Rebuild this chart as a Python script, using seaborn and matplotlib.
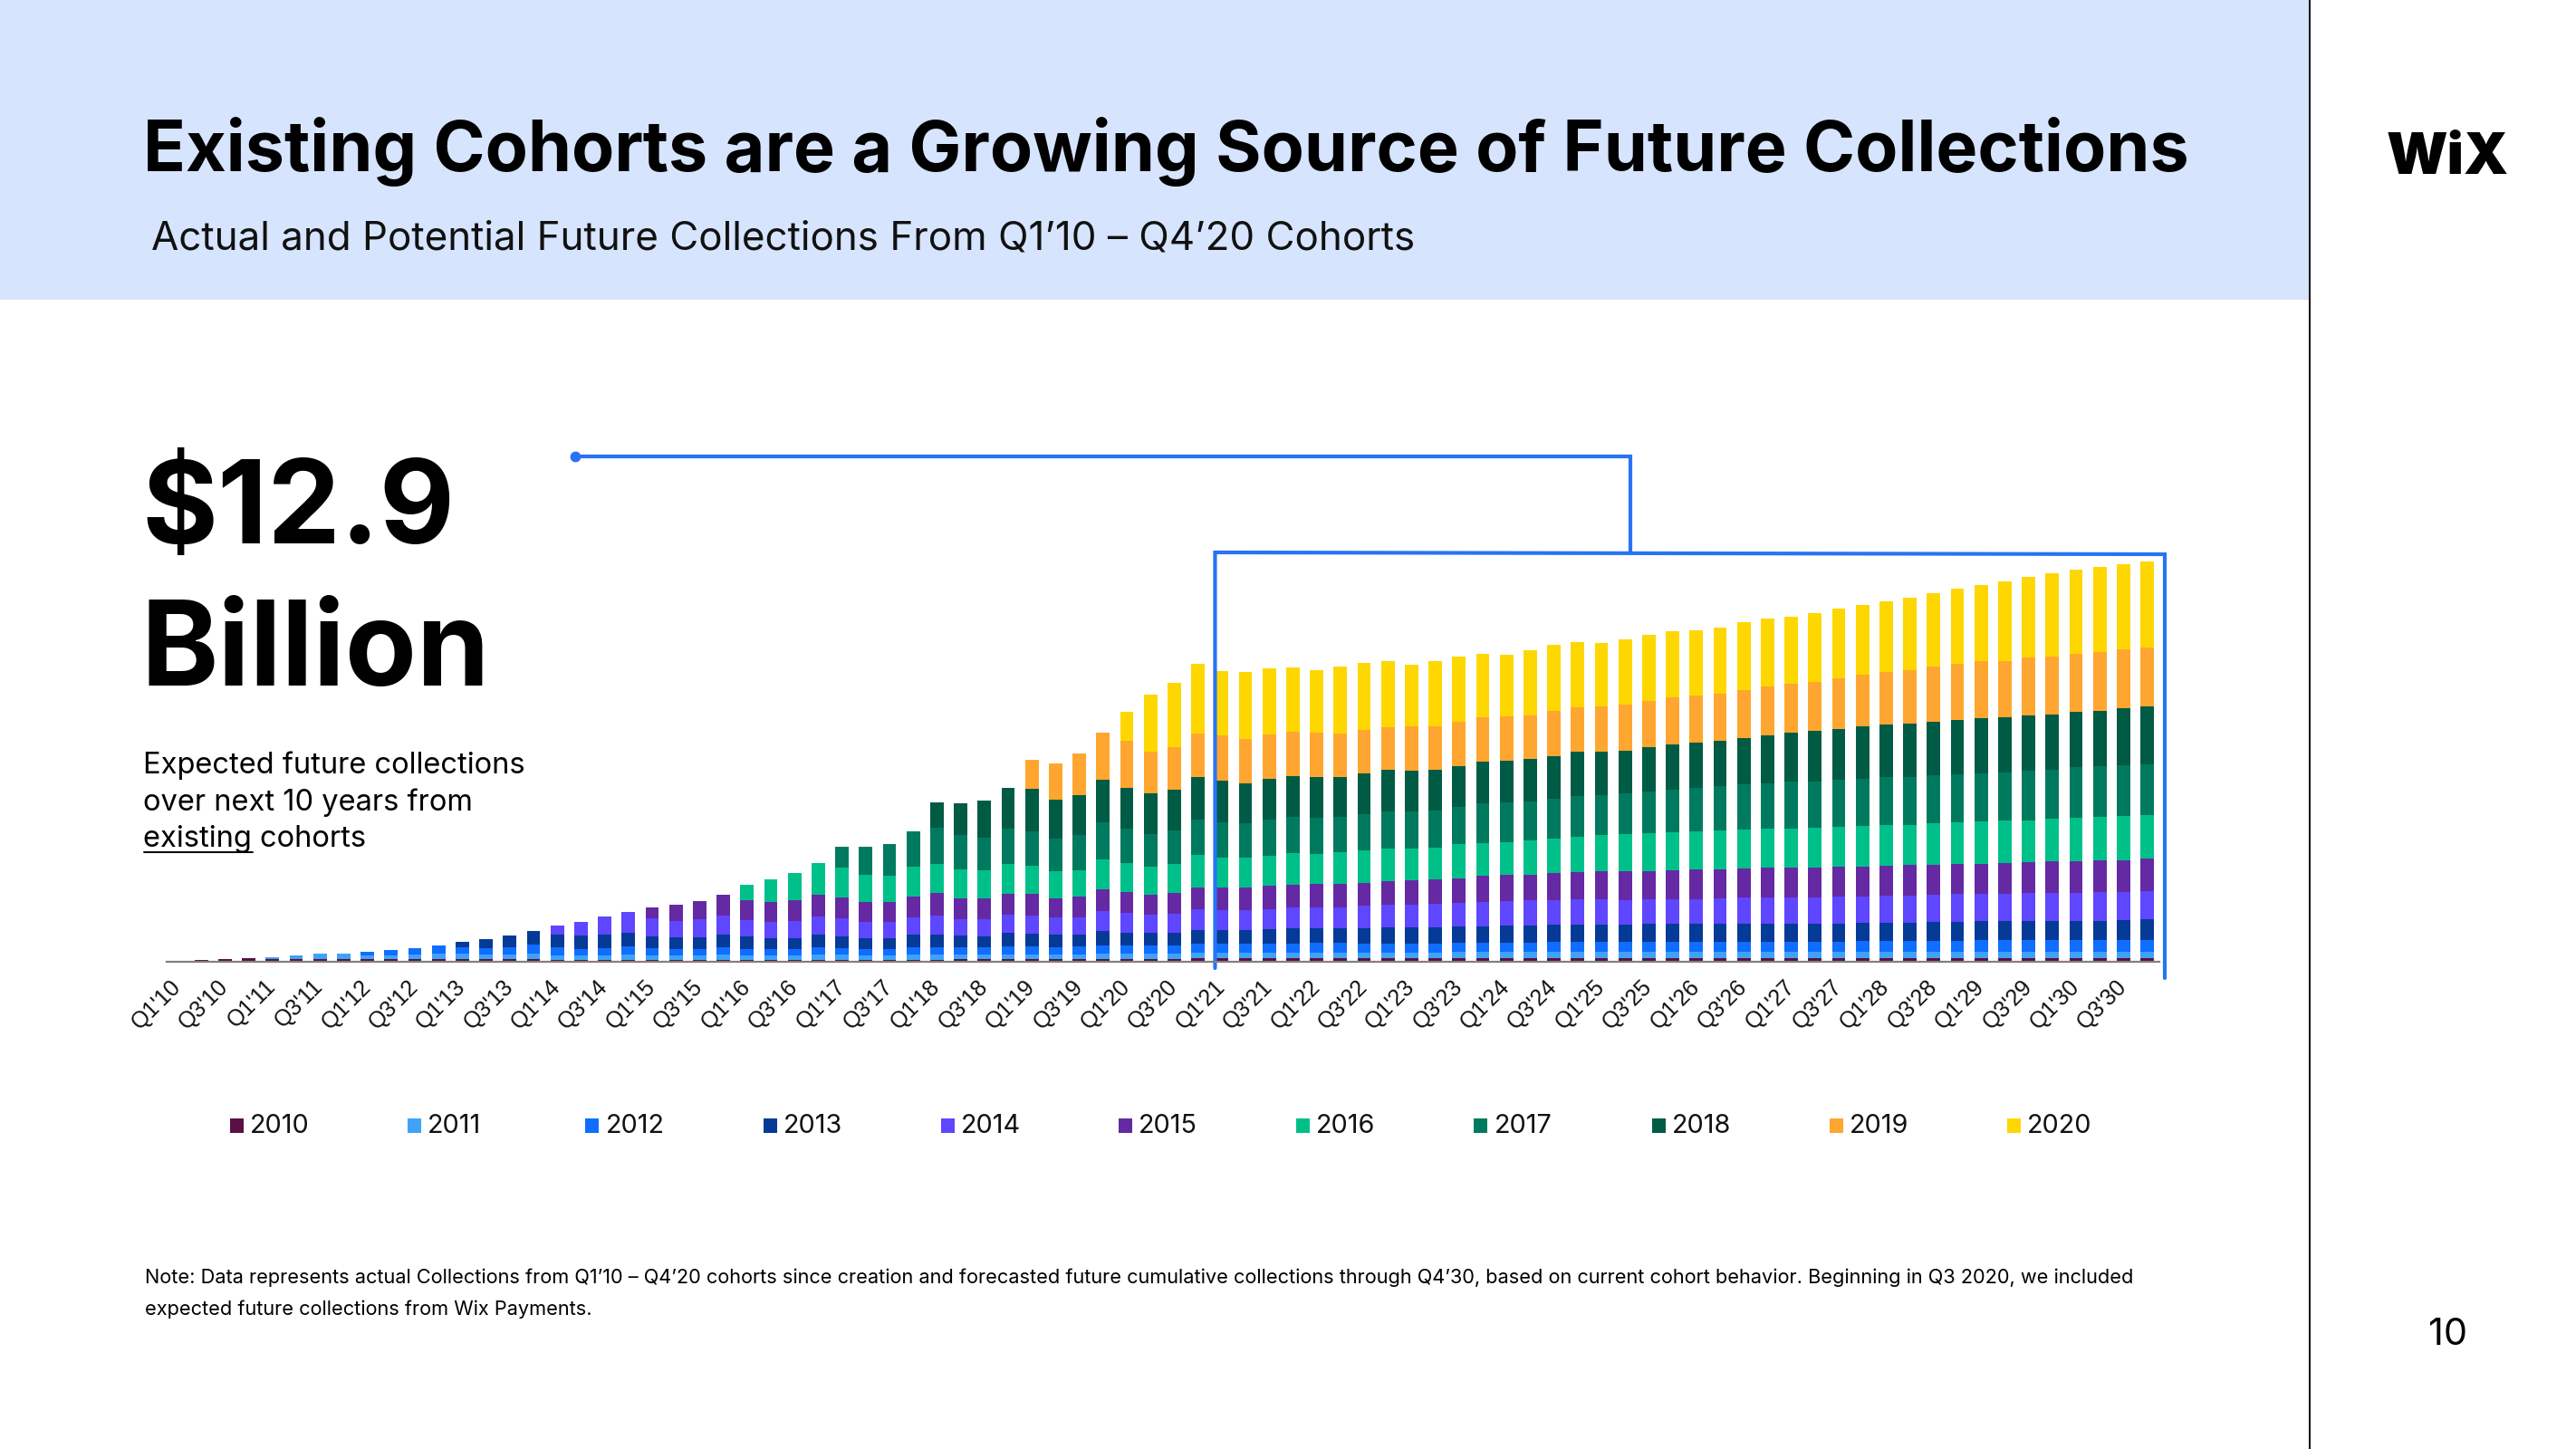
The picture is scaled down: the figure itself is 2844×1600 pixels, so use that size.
import numpy as np
import pandas as pd
import matplotlib
matplotlib.use("Agg")
import matplotlib.pyplot as plt
import seaborn as sns
from matplotlib.patches import Rectangle
from matplotlib.lines import Line2D

# ---------------- data ----------------
quarters = [f"Q{q}'{y:02d}" for y in range(10, 31) for q in (1, 2, 3, 4)]
cohorts = ["2010", "2011", "2012", "2013", "2014", "2015",
           "2016", "2017", "2018", "2019", "2020"]
cohort_colors = ["#5B0F44", "#3FA2F7", "#0F6EFF", "#053A96", "#5F46FF", "#6529A3",
                 "#00C08A", "#007A5F", "#005B45", "#FFA630", "#FFD700"]
# index of the first quarter in which each cohort has collections
cohort_start = [0, 4, 8, 12, 16, 20, 24, 28, 32, 36, 40]

c2010 = [1.3, 2.3, 2.7, 4.0,
         2.7, 2.7, 2.7, 2.7, 2.7, 2.7, 2.7, 2.7, 2.7, 2.7, 2.7, 2.7,
         2.5, 2.5, 2.5, 2.5, 2.5, 2.5, 2.5, 2.5, 2.5, 2.5, 2.5, 2.5, 2.5, 2.5, 2.5, 2.5, 2.5,
         3.0, 3.0, 3.0, 3.0, 3.0, 3.0, 3.3, 3.3, 3.3, 3.3,
         3.7, 3.7, 3.7, 3.7, 3.7, 3.7, 3.7, 3.7, 3.7, 3.7, 3.7, 3.7, 3.7, 3.7, 3.7, 3.7,
         3.7, 3.7, 3.7, 3.7, 3.7, 3.7, 3.7, 3.7,
         4.0, 4.0, 4.0, 4.0, 4.0, 4.0, 4.0, 4.0, 4.0, 4.0, 4.0, 4.0, 4.0, 4.0, 4.0, 4.0, 4.0]
c2011 = [2.7, 4.0, 6.0, 6.7, 4.0, 4.7, 5.0, 6.0, 6.0, 5.7, 5.7, 6.0,
         5.0, 5.0, 5.0, 5.3, 5.0, 4.7, 5.0, 5.3, 5.0, 4.7, 4.7, 5.3, 5.3, 4.7, 4.7, 5.3, 5.3,
         5.3, 5.3, 5.3, 5.3, 5.3, 5.3, 5.7, 5.7, 5.7, 5.7, 6.0, 6.3, 6.3, 6.7, 6.7, 6.7, 6.7,
         6.7, 6.7, 6.7, 6.7, 7.0, 7.0, 7.0, 7.0, 7.0, 7.3, 7.3, 7.3, 7.3, 7.3, 7.3, 7.3, 7.3,
         7.3, 7.3, 7.3, 7.3, 7.3, 7.3, 7.3, 7.3, 7.3, 7.3, 7.3, 7.3, 7.3, 7.3, 7.3, 7.3, 7.3]
c2012 = [4.3, 5.3, 7.3, 9.0, 7.3, 6.7, 7.7, 10.0,
         8.3, 7.0, 8.0, 9.3, 7.7, 6.7, 7.0, 8.3, 7.0, 7.3, 7.3, 8.7, 7.7, 7.3, 7.3, 8.7, 8.7,
         7.3, 7.3, 9.0, 9.0, 8.0, 8.3, 9.3, 9.0, 9.0, 9.3, 10.0, 9.7, 9.7, 10.0, 10.0, 10.3, 10.3,
         10.0, 10.0, 10.0, 10.0, 10.3, 10.3, 10.3, 10.7, 11.0, 11.0, 11.0, 11.0, 11.3, 11.3, 11.3, 11.3, 11.3,
         11.0, 11.0, 11.0, 11.0, 11.3, 11.3, 11.3, 12.0, 12.0, 12.7, 12.7, 12.7, 12.7, 12.7, 12.7, 13.0, 13.0]
c2013 = [5.7, 10.0, 12.7, 15.6,
         14.7, 14.3, 14.3, 15.3, 13.3, 12.7, 12.7, 14.3, 13.3, 12.0, 12.0, 13.3, 13.0, 12.0, 12.0, 13.3, 14.0,
         13.0, 12.7, 14.3, 14.0, 13.3, 13.7, 16.0, 14.3, 13.7, 14.0, 15.7, 15.7, 15.7, 16.0, 16.3, 16.7, 16.7,
         17.0, 18.0, 18.0, 18.0, 18.3, 18.3, 18.7, 18.3, 19.0, 18.7, 18.7, 19.0, 19.3, 19.3, 19.3, 19.3, 19.3,
         20.0, 20.0, 20.0, 20.0, 20.3, 20.7, 20.7, 20.7, 20.7, 20.7, 20.7, 20.7, 21.3, 21.3, 21.3, 21.7, 22.3]
c2014 = [10.0, 15.7, 20.7, 23.0, 19.3, 18.0, 20.3, 21.0, 18.7, 18.0, 18.7, 20.3, 19.7, 17.3, 17.7, 19.3, 20.7,
         18.7, 19.0, 20.0, 19.7, 19.0, 19.0, 22.0, 21.3, 20.3, 21.0, 23.0, 22.0, 22.0, 22.0, 23.3, 22.7, 22.7,
         25.0, 25.0, 24.7, 26.0, 26.0, 27.0, 27.7, 28.3, 27.7, 28.0, 28.0, 27.3, 27.7, 27.7, 27.7, 28.7, 29.0,
         29.0, 29.0, 29.0, 30.0, 29.3, 29.7, 30.0, 30.0, 30.7, 30.0, 30.7, 31.7, 31.0, 31.0, 31.7, 31.3, 31.7]
c2015 = [12.3, 18.0, 20.0, 22.7, 22.0, 21.3, 23.0, 24.3, 23.3, 22.0, 22.3, 23.3, 24.7,
         22.3, 22.3, 23.0, 23.7, 21.0, 22.3, 23.7, 23.3, 22.0, 23.0, 24.0, 24.3, 24.3, 25.3, 25.3, 25.7, 26.3,
         25.0, 25.7, 27.3, 27.0, 27.0, 28.3, 28.3, 28.3, 29.3, 30.0, 31.0, 31.3, 31.0, 32.0, 32.3, 31.3, 32.0,
         32.3, 32.3, 33.0, 32.3, 33.3, 32.7, 33.3, 33.3, 33.3, 33.7, 33.7, 33.3, 34.3, 35.0, 35.0, 35.0, 35.7]
c2016 = [16.7, 25.3, 30.0, 34.7, 33.0, 30.7, 28.7, 32.7, 32.0,
         32.0, 31.7, 33.3, 31.7, 30.0, 29.7, 33.3, 32.3, 31.3, 32.0, 35.3, 33.3, 33.3, 33.7, 34.7, 33.3, 34.3,
         36.0, 36.3, 35.0, 35.0, 37.3, 36.7, 36.7, 38.0, 38.7, 39.7, 40.0, 41.0, 42.0, 42.0, 42.7, 43.3, 43.7,
         43.3, 43.7, 44.0, 44.7, 44.7, 45.7, 44.7, 45.7, 46.0, 46.3, 46.7, 46.7, 47.3, 47.7, 47.7, 48.7, 48.3]
c2017 = [22.7, 30.7, 35.3, 39.3, 40.3,
         38.0, 36.0, 39.3, 37.7, 36.7, 38.7, 40.7, 38.0, 36.0, 36.7, 39.7, 39.0, 38.0, 40.0, 40.0, 40.3, 39.3,
         39.7, 41.0, 41.0, 40.7, 41.7, 43.3, 43.3, 42.7, 44.0, 44.7, 44.7, 45.0, 45.7, 47.0, 48.0, 48.7, 50.0,
         50.3, 51.7, 50.7, 51.7, 52.0, 52.3, 53.0, 53.3, 53.3, 53.7, 53.7, 55.0, 54.3, 55.7, 56.0, 56.3, 56.0]
c2018 = [28.3,
         35.7, 41.0, 44.7, 47.3, 42.7, 44.0, 46.7, 45.0, 44.3, 44.7, 46.3, 45.7, 44.3, 44.3, 44.7, 44.7, 44.3,
         45.3, 45.3, 45.0, 45.3, 45.0, 46.0, 46.0, 46.7, 47.0, 48.7, 48.0, 47.7, 49.0, 50.0, 50.0, 50.7, 51.0,
         53.3, 54.0, 55.7, 56.3, 57.7, 58.7, 59.0, 58.7, 59.3, 60.3, 60.7, 60.3, 61.3, 61.0, 61.3, 62.3, 63.3]
c2019 = [31.7, 40.0, 46.0, 52.7, 51.7, 46.7, 47.3, 48.7, 50.7, 49.0, 49.7, 49.3, 49.0, 47.3,
         48.0, 47.3, 49.0, 48.0, 49.0, 49.0, 49.7, 48.7, 50.0, 49.7, 50.0, 50.7, 51.0, 51.3, 52.0, 52.0, 52.7,
         54.0, 54.0, 54.7, 55.7, 57.3, 57.7, 59.0, 60.7, 62.0, 63.0, 62.3, 64.0, 64.0, 64.7, 64.7, 65.0, 65.7]
c2020 = [32.3, 63.0, 71.0, 76.7, 70.3, 73.7, 72.7, 71.3, 69.0, 74.7,
         73.7, 73.3, 68.0, 71.3, 71.3, 70.3, 68.0, 72.0, 72.7, 72.0, 70.0, 72.0, 73.0, 73.3, 71.7, 73.0, 75.0,
         74.3, 74.3, 75.3, 77.3, 77.3, 78.0, 80.0, 81.7, 83.7, 84.7, 87.7, 89.3, 91.3, 92.7, 94.0, 94.3, 94.7]
series = [c2010, c2011, c2012, c2013, c2014, c2015, c2016, c2017, c2018, c2019, c2020]

legend_labels = cohorts
title = "Existing Cohorts are a Growing Source of Future Collections"
subtitle = "Actual and Potential Future Collections From Q1\u201910 \u2013 Q4\u201920 Cohorts"
big_number = r"\$12.9"
big_unit = "Billion"
body_lines = ["Expected future collections", "over next 10 years from", "existing cohorts"]
note_lines = ["Note: Data represents actual Collections from Q1\u201910 \u2013 Q4\u201920 cohorts since creation and "
              "forecasted future cumulative collections through Q4\u201930, based on current cohort behavior. "
              "Beginning in Q3 2020, we included",
              "expected future collections from Wix Payments."]
page_number = "10"

rows = []
for name, start, vals in zip(cohorts, cohort_start, series):
    assert start + len(vals) == len(quarters), name
    for j, v in enumerate(vals):
        rows.append((start + j, name, v))
df = pd.DataFrame(rows, columns=["quarter", "cohort", "value"])

# ---------------- figure ----------------
W, H = 2844, 1600
sns.set_theme(style="white")
plt.rcParams["font.family"] = ["Inter", "DejaVu Sans"]

fig = plt.figure(figsize=(W / 100, H / 100), dpi=100)
fig.patch.set_facecolor("white")


def fx(px):
    return px / W


def fy(py):
    return 1 - py / H


# header band and divider
fig.add_artist(Rectangle((0, fy(331)), 2550 / W, 331 / H, transform=fig.transFigure,
                         facecolor="#D6E4FE", edgecolor="none", zorder=0))
fig.add_artist(Line2D([fx(2550), fx(2550)], [0, 1], transform=fig.transFigure,
                      color="#1a1a1a", lw=1.5))

# chart axes
ax = fig.add_axes([fx(184), (H - 1062) / H, 2200 / W, 460 / H])
sns.histplot(data=df, x="quarter", weights="value", hue="cohort",
             hue_order=cohorts[::-1], palette=dict(zip(cohorts, cohort_colors)),
             multiple="stack", discrete=True, shrink=0.56, alpha=1, linewidth=0,
             legend=False, ax=ax)
ax.set_xlim(-0.458, 83.511)
ax.set_ylim(0, 460)
ax.set_xlabel("")
ax.set_ylabel("")
ax.set_yticks([])
ax.patch.set_alpha(0)
for s in ["top", "left", "right"]:
    ax.spines[s].set_visible(False)
ax.spines["bottom"].set_color("#808080")
ax.spines["bottom"].set_linewidth(1.6)
ax.set_xticks(range(0, len(quarters), 2))
ax.set_xticklabels(quarters[::2], rotation=45, ha="right", va="center",
                   rotation_mode="anchor", fontsize=18, family="Liberation Sans",
                   color="#111111")
ax.tick_params(axis="x", length=0, pad=17)

# connector / bracket (data coordinates)
blue = "#2873F5"
lw = 3.0
ax.plot([16.76, 61.22, 61.22], [558, 558, 452], color=blue, lw=lw, clip_on=False,
        solid_joinstyle="miter")
ax.plot([16.76], [558], marker="o", ms=7.5, color=blue, clip_on=False)
ax.plot([43.72, 43.72, 83.74, 83.74], [-7, 452, 450, -18], color=blue, lw=lw,
        clip_on=False, solid_joinstyle="miter")

# ---------------- texts ----------------
renderer = fig.canvas.get_renderer()


def fit(t, target_w):
    bb = t.get_window_extent(renderer=renderer)
    t.set_fontsize(t.get_fontsize() * target_w / bb.width)
    return t.get_fontsize()


t = fig.text(fx(158), fy(189), title, fontsize=56, fontweight="bold", va="baseline",
             ha="left", color="black")
fit(t, 2260)
t = fig.text(fx(167), fy(276), subtitle, fontsize=26, va="baseline", ha="left",
             color="#111111")
fit(t, 1395)
t = fig.text(fx(2635), fy(192), "WiX", fontsize=40, fontweight="black", va="baseline",
             ha="left", color="black")
fit(t, 135)

t = fig.text(fx(156), fy(600), big_number, fontsize=100, fontweight="bold",
             va="baseline", ha="left", color="black")
fit(t, 346)
t = fig.text(fx(156), fy(757), big_unit, fontsize=100, fontweight="bold",
             va="baseline", ha="left", color="black")
fit(t, 385)

t0 = fig.text(fx(158), fy(854), body_lines[0], fontsize=22, va="baseline", ha="left",
              color="black")
bsize = fit(t0, 422)
fig.text(fx(158), fy(895), body_lines[1], fontsize=bsize, va="baseline", ha="left",
         color="black")
fig.text(fx(158), fy(935), body_lines[2], fontsize=bsize, va="baseline", ha="left",
         color="black")
tmp = fig.text(0, 0, "existing", fontsize=bsize)
uw = tmp.get_window_extent(renderer=renderer).width
tmp.remove()
fig.add_artist(Line2D([fx(159), fx(159 + uw)], [fy(941), fy(941)],
                      transform=fig.transFigure, color="black", lw=1.4))

t1 = fig.text(fx(160), fy(1417), note_lines[0], fontsize=12, va="baseline", ha="left",
              color="black")
nsize = fit(t1, 2200)
fig.text(fx(160), fy(1452), note_lines[1], fontsize=nsize, va="baseline", ha="left",
         color="black")

t = fig.text(fx(2681), fy(1485), page_number, fontsize=28, va="baseline", ha="left",
             color="black")
fit(t, 43)

# legend (manual, one row)
tmpl = fig.text(0, 0, "2010", fontsize=16)
lsize = 16 * 66 / tmpl.get_window_extent(renderer=renderer).width
tmpl.remove()
for k, (name, col) in enumerate(zip(legend_labels, cohort_colors)):
    x0 = 254 + 196.2 * k
    fig.add_artist(Rectangle((fx(x0), fy(1251)), 15 / W, 16 / H,
                             transform=fig.transFigure, facecolor=col,
                             edgecolor="none"))
    fig.text(fx(x0 + 22), fy(1251), name, fontsize=lsize, va="baseline", ha="left",
             color="#111111")

fig.savefig("out.png", dpi=100, facecolor="white")
